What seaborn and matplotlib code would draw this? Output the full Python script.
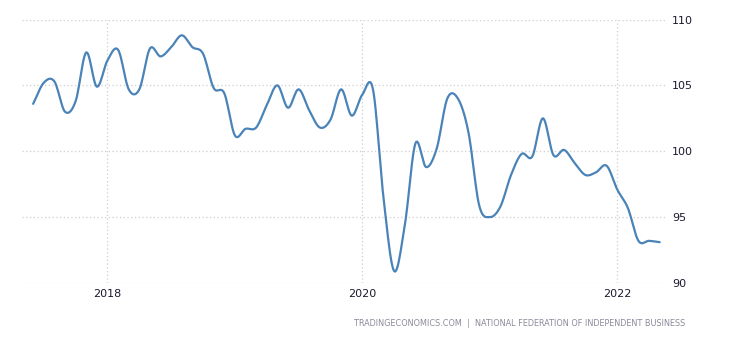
import numpy as np
import pandas as pd
import matplotlib
matplotlib.use("Agg")
import matplotlib.pyplot as plt
import seaborn as sns

# NFIB Small Business Optimism Index, monthly, Jun 2017 - May 2022
months = pd.date_range("2017-06-01", "2022-05-01", freq="MS")
values = [
    103.6, 105.2, 105.3, 103.0, 103.8, 107.5, 104.9,               # 2017 Jun-Dec
    106.9, 107.7, 104.7, 104.7, 107.8, 107.2, 107.9, 108.8,        # 2018
    107.9, 107.4, 104.8, 104.4,
    101.2, 101.7, 101.8, 103.5, 105.0, 103.3, 104.7, 103.1,        # 2019
    101.8, 102.4, 104.7, 102.7,
    104.3, 104.7, 96.4, 90.9, 94.4, 100.6, 98.8, 100.2,            # 2020
    104.0, 104.0, 101.4, 95.9,
    95.0, 95.8, 98.2, 99.8, 99.6, 102.5, 99.7, 100.1,              # 2021
    99.1, 98.2, 98.4, 98.9,
    97.1, 95.7, 93.2, 93.2, 93.1,                                  # 2022 Jan-May
]
year_ticks = [2018, 2020, 2022]
y_ticks = [90, 95, 100, 105, 110]
source_text = "TRADINGECONOMICS.COM  |  NATIONAL FEDERATION OF INDEPENDENT BUSINESS"

# months counted from Jan 2018
t = np.array([(d.year - 2018) * 12 + (d.month - 1) for d in months], dtype=float)
v = np.array(values, dtype=float)


def catmull_rom(x, y, steps=12):
    """Smooth curve through every data point (Catmull-Rom spline)."""
    xp = np.concatenate([[2 * x[0] - x[1]], x, [2 * x[-1] - x[-2]]])
    yp = np.concatenate([[2 * y[0] - y[1]], y, [2 * y[-1] - y[-2]]])
    xs, ys = [], []
    for i in range(1, len(xp) - 2):
        s = np.linspace(0, 1, steps, endpoint=False)
        for arr, out in ((xp, xs), (yp, ys)):
            p0, p1, p2, p3 = arr[i - 1], arr[i], arr[i + 1], arr[i + 2]
            out.append(0.5 * ((2 * p1) + (-p0 + p2) * s
                              + (2 * p0 - 5 * p1 + 4 * p2 - p3) * s ** 2
                              + (-p0 + 3 * p1 - 3 * p2 + p3) * s ** 3))
    xs.append([x[-1]])
    ys.append([y[-1]])
    return np.concatenate(xs), np.concatenate(ys)


sx, sy = catmull_rom(t, v)
curve = pd.DataFrame({"month": sx, "index": sy})

sns.set_theme(style="white")
plt.rcParams["font.family"] = ["DejaVu Sans"]

fig = plt.figure(figsize=(7.3, 3.4), dpi=100)
ax = fig.add_axes([22 / 730, 1 - 283 / 340, (665 - 22) / 730, (283 - 19.5) / 340])

sns.lineplot(data=curve, x="month", y="index", ax=ax, color="#4a83b8",
             linewidth=1.6, sort=False)

ax.set_xlim(-8.05, 52.5)
ax.set_ylim(90, 110)
ax.set_xticks([(y - 2018) * 12 for y in year_ticks])
ax.set_xticklabels([str(y) for y in year_ticks])
ax.set_yticks(y_ticks)
ax.set_yticklabels([str(y) for y in y_ticks])
ax.yaxis.tick_right()
ax.tick_params(axis="both", length=0, labelsize=8, colors="#1a1a2e")
ax.tick_params(axis="y", pad=5)
ax.tick_params(axis="x", pad=4)
for lab in ax.get_yticklabels():
    lab.set_horizontalalignment("left")
ax.set_xlabel("")
ax.set_ylabel("")
ax.grid(True, color="#cfcfcf", linestyle=(0, (1, 2)), linewidth=0.9)
for s in ax.spines.values():
    s.set_visible(False)

fig.text(685 / 730, 1 - 324 / 340, source_text, ha="right", va="center",
         fontsize=5.85, color="#8a8a9a")

fig.savefig("out.png", dpi=100)
